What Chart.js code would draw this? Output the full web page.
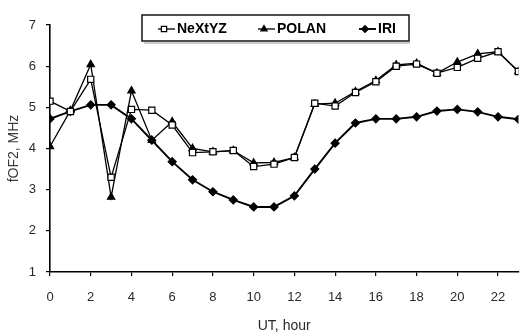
<!DOCTYPE html>
<html>
<head>
<meta charset="utf-8">
<script src="https://cdn.jsdelivr.net/npm/chart.js@4.4.1/dist/chart.umd.min.js"></script>
<style>
  html, body { margin: 0; padding: 0; background: #fff; }
  #wrap { width: 524px; height: 335px; }
</style>
</head>
<body>
<div id="wrap"><canvas id="chart" width="524" height="335"></canvas></div>
<script>
// foF2 diurnal course, three models
const hours = [0, 1, 2, 3, 4, 5, 6, 7, 8, 9, 10, 11, 12, 13, 14, 15, 16, 17, 18, 19, 20, 21, 22, 23]
const nextyz = [5.15, 4.9, 5.68, 3.3, 4.95, 4.93, 4.57, 3.9, 3.92, 3.95, 3.56, 3.62, 3.78, 5.1, 5.03, 5.36, 5.62, 6.0, 6.05, 5.83, 5.97, 6.19, 6.35, 5.87]
const polan = [4.05, 4.92, 6.04, 2.82, 5.4, 4.2, 4.65, 4.0, 3.92, 3.95, 3.65, 3.66, 3.78, 5.08, 5.1, 5.38, 5.65, 6.03, 6.07, 5.83, 6.1, 6.3, 6.35, 5.87]
const iri = [4.72, 4.9, 5.06, 5.06, 4.72, 4.2, 3.68, 3.24, 2.95, 2.75, 2.58, 2.58, 2.85, 3.5, 4.13, 4.62, 4.72, 4.72, 4.77, 4.91, 4.95, 4.89, 4.77, 4.71]
const xTicks = [0, 2, 4, 6, 8, 10, 12, 14, 16, 18, 20, 22]
const yTicks = [1, 2, 3, 4, 5, 6, 7]

const FONT = "'Liberation Sans', Arial, sans-serif"

const toPoints = (values) => hours.map((h, i) => ({ x: h, y: values[i] }))

const series = [
  { label: "NeXtYZ", data: nextyz, style: "rect", radius: 4.4, fill: "#fff", width: 1.3 },
  { label: "POLAN", data: polan, style: "triangle", radius: 4.2, fill: "#000", width: 1.3 },
  { label: "IRI", data: iri, style: "rectRot", radius: 4, fill: "#000", width: 1.9 }
]

function drawMarker(ctx, style, x, y, r, fill) {
  ctx.beginPath()
  if (style === "rect") {
    const s = r * Math.SQRT1_2
    ctx.rect(x - s, y - s, 2 * s, 2 * s)
  } else if (style === "triangle") {
    ctx.moveTo(x, y - r)
    ctx.lineTo(x + r * 0.866, y + r * 0.5)
    ctx.lineTo(x - r * 0.866, y + r * 0.5)
    ctx.closePath()
  } else {
    ctx.moveTo(x, y - r)
    ctx.lineTo(x + r, y)
    ctx.lineTo(x, y + r)
    ctx.lineTo(x - r, y)
    ctx.closePath()
  }
  ctx.fillStyle = fill
  ctx.fill()
  ctx.lineWidth = 1.2
  ctx.strokeStyle = "#000"
  ctx.stroke()
}

// boxed legend sitting over the top of the plot
const legendBox = {
  id: "legendBox",
  afterDraw(chart) {
    const ctx = chart.ctx
    const bx = 142, by = 15, bw = 267, bh = 26
    const starts = [158, 258, 359]
    ctx.save()
    ctx.fillStyle = "#fff"
    ctx.fillRect(bx, by, bw, bh)
    ctx.strokeStyle = "#999"
    ctx.lineWidth = 1.2
    ctx.beginPath()
    ctx.moveTo(bx + 2, by + bh + 2)
    ctx.lineTo(bx + bw + 1, by + bh + 2)
    ctx.stroke()
    ctx.strokeStyle = "#222"
    ctx.lineWidth = 1.6
    ctx.strokeRect(bx, by, bw, bh)

    const cy = by + bh / 2 + 1
    series.forEach((s, i) => {
      const lx = starts[i]
      ctx.strokeStyle = "#000"
      ctx.lineWidth = s.width
      ctx.beginPath()
      ctx.moveTo(lx, cy)
      ctx.lineTo(lx + 17, cy)
      ctx.stroke()
      drawMarker(ctx, s.style, lx + 6, cy, s.radius * 0.85, s.fill)
      ctx.fillStyle = "#000"
      ctx.font = "bold 14px " + FONT
      ctx.textBaseline = "middle"
      ctx.textAlign = "left"
      ctx.fillText(s.label, lx + 19, cy)
    })
    ctx.restore()
  }
}

new Chart(document.getElementById("chart"), {
  type: "line",
  data: {
    datasets: series.map((s) => ({
      label: s.label,
      data: toPoints(s.data),
      borderColor: "#000",
      borderWidth: s.width,
      backgroundColor: s.fill,
      pointStyle: s.style,
      pointRadius: s.radius,
      pointBorderWidth: 1.2,
      pointBorderColor: "#000",
      pointBackgroundColor: s.fill,
      tension: 0,
      fill: false
    }))
  },
  options: {
    responsive: false,
    animation: false,
    devicePixelRatio: 1,
    layout: { padding: { top: 25, right: 2, left: 0, bottom: 0 } },
    plugins: {
      legend: { display: false },
      tooltip: { enabled: false }
    },
    scales: {
      x: {
        type: "linear",
        min: 0,
        max: 23,
        afterBuildTicks: (scale) => { scale.ticks = xTicks.map((v) => ({ value: v })) },
        afterFit: (scale) => { scale.height = 63 },
        grid: { drawOnChartArea: false, drawTicks: true, tickLength: 4, color: "#000", lineWidth: 1.2 },
        border: { display: true, color: "#000", width: 1.6 },
        ticks: {
          autoSkip: false,
          maxRotation: 0,
          padding: 14,
          color: "#2a2a2a",
          font: { family: FONT, size: 13 }
        },
        title: {
          display: true,
          text: "UT, hour",
          color: "#2a2a2a",
          font: { family: FONT, size: 14 },
          padding: { top: 0, bottom: 0 }
        }
      },
      y: {
        min: 1,
        max: 7,
        afterBuildTicks: (scale) => { scale.ticks = yTicks.map((v) => ({ value: v })) },
        afterFit: (scale) => { scale.width = 50 },
        grid: { drawOnChartArea: false, drawTicks: true, tickLength: 4, color: "#000", lineWidth: 1.2 },
        border: { display: true, color: "#000", width: 1.6 },
        ticks: {
          padding: 10,
          color: "#2a2a2a",
          font: { family: FONT, size: 13 }
        },
        title: {
          display: true,
          text: "fOF2, MHz",
          color: "#3a3a3a",
          font: { family: FONT, size: 14 },
          padding: { top: 6, bottom: 0 }
        }
      }
    }
  },
  plugins: [legendBox]
})
</script>
</body>
</html>
